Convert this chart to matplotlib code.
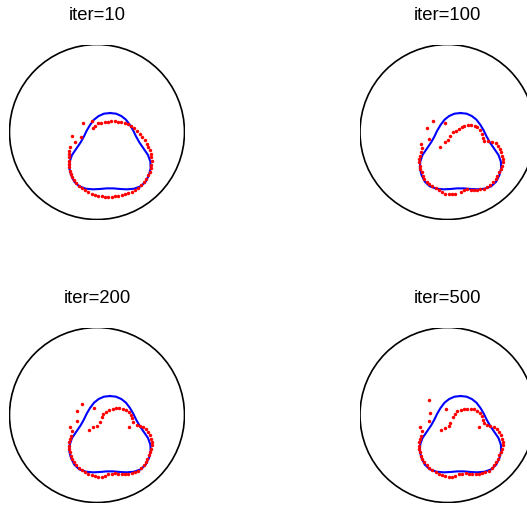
# Curva alvo (azul) e pontos (vermelho) em quatro iterações
import numpy as np
import matplotlib.pyplot as plt

plt.rcParams['font.family'] = ['Liberation Sans', 'DejaVu Sans']

# Títulos dos painéis
titulos = ['iter=10', 'iter=100', 'iter=200', 'iter=500']

# Curva alvo (igual nos quatro painéis)
alvo_x = [0.149, 0.217, 0.278, 0.331, 0.377, 0.415, 0.446, 0.484, 0.533, 0.583,
          0.610, 0.613, 0.594, 0.556, 0.499, 0.423, 0.339, 0.263, 0.187, 0.110,
          0.034, -0.042, -0.126, -0.202, -0.259, -0.297, -0.316, -0.312, -0.286, -0.236,
          -0.187, -0.149, -0.118, -0.080, -0.034, 0.019, 0.080, 0.149]
alvo_y = [0.217, 0.210, 0.183, 0.141, 0.080, 0.015, -0.050, -0.118, -0.190, -0.263,
          -0.339, -0.415, -0.491, -0.568, -0.621, -0.648, -0.655, -0.651, -0.644, -0.644,
          -0.651, -0.655, -0.648, -0.621, -0.568, -0.491, -0.415, -0.339, -0.263, -0.190,
          -0.118, -0.050, 0.015, 0.080, 0.141, 0.183, 0.210, 0.217]

# Pontos após 10 iterações
x10 = [-0.156, -0.061, -0.290, -0.187, -0.251, -0.050, -0.019,
       -0.309, -0.316, -0.320, -0.320, -0.320, -0.320, -0.316, -0.309, -0.297, -0.282,
       -0.263, -0.240, -0.210, -0.175, -0.137, -0.099, -0.061, -0.023, 0.015, 0.053,
       0.091, 0.130, 0.168, 0.206, 0.244, 0.282, 0.320, 0.358, 0.396, 0.434,
       0.472, 0.507, 0.537, 0.564, 0.583, 0.602, 0.613, 0.621, 0.625, 0.621,
       0.613, 0.602, 0.587, 0.568, 0.545, 0.518, 0.491, 0.461, 0.427, 0.392,
       0.354, 0.316, 0.278, 0.240, 0.202, 0.164, 0.126, 0.088, 0.050, 0.015]
y10 = [0.099, 0.122, -0.042, -0.053, -0.110, 0.042, 0.072,
       -0.175, -0.213, -0.251, -0.290, -0.328, -0.366, -0.404, -0.442, -0.480, -0.518,
       -0.552, -0.583, -0.613, -0.640, -0.663, -0.686, -0.705, -0.720, -0.731, -0.735,
       -0.739, -0.739, -0.739, -0.735, -0.728, -0.720, -0.712, -0.701, -0.686, -0.663,
       -0.636, -0.606, -0.571, -0.533, -0.495, -0.457, -0.415, -0.373, -0.331, -0.290,
       -0.248, -0.210, -0.171, -0.133, -0.095, -0.057, -0.019, 0.015, 0.046, 0.072,
       0.091, 0.107, 0.114, 0.118, 0.122, 0.122, 0.118, 0.114, 0.107, 0.099]

# Pontos após 100 iterações
x100 = [-0.168, -0.232, -0.030, -0.213, -0.301, -0.286,
        -0.301, -0.312, -0.320, -0.320, -0.316, -0.309, -0.297, -0.282, -0.263, -0.240,
        -0.210, -0.175, -0.137, -0.099, -0.061, -0.023, 0.015, 0.053, 0.091, 0.149,
        0.187, 0.225, 0.263, 0.301, 0.339, 0.377, 0.415, 0.453, 0.491, 0.522,
        0.549, 0.568, 0.587, 0.606, 0.621, 0.629, 0.632, 0.625, 0.613, 0.598,
        0.579, 0.549, 0.510, 0.461, 0.415, 0.408, 0.389, 0.366, 0.339, 0.309,
        0.270, 0.232, 0.194, 0.164, 0.133, 0.099, 0.065, 0.034, 0.008, -0.034, -0.088]
y100 = [0.122, 0.046, 0.099, -0.080, -0.137, -0.187,
        -0.232, -0.270, -0.309, -0.347, -0.385, -0.423, -0.461, -0.499, -0.537, -0.568,
        -0.594, -0.621, -0.644, -0.667, -0.690, -0.705, -0.712, -0.712, -0.709, -0.686,
        -0.659, -0.651, -0.659, -0.659, -0.659, -0.655, -0.648, -0.629, -0.602, -0.571,
        -0.537, -0.499, -0.461, -0.423, -0.385, -0.347, -0.309, -0.270, -0.232, -0.194,
        -0.156, -0.130, -0.110, -0.103, -0.103, -0.065, -0.019, 0.027, 0.057, 0.072,
        0.080, 0.084, 0.072, 0.053, 0.034, 0.011, -0.004, -0.050, -0.095, -0.118, -0.168]

# Pontos após 200 iterações
x200 = [-0.175, -0.225, -0.030, -0.225, -0.309, -0.286,
        -0.301, -0.312, -0.320, -0.320, -0.320, -0.312, -0.301, -0.286, -0.263, -0.240,
        -0.210, -0.175, -0.137, -0.099, -0.061, -0.023, 0.015, 0.053, 0.091, 0.130,
        0.168, 0.206, 0.244, 0.282, 0.320, 0.358, 0.396, 0.434, 0.472, 0.503,
        0.533, 0.556, 0.575, 0.594, 0.610, 0.621, 0.629, 0.629, 0.621, 0.606,
        0.587, 0.560, 0.530, 0.491, 0.453, 0.366,
        0.415, 0.404, 0.385, 0.362, 0.331, 0.293, 0.255, 0.217, 0.179, 0.141,
        0.103, 0.072, 0.053, 0.034, 0.004, -0.042, -0.091]
y200 = [0.126, 0.042, 0.076, -0.065, -0.133, -0.187,
        -0.236, -0.274, -0.312, -0.350, -0.389, -0.427, -0.465, -0.503, -0.541, -0.575,
        -0.606, -0.632, -0.655, -0.674, -0.690, -0.701, -0.705, -0.705, -0.697, -0.678,
        -0.670, -0.659, -0.670, -0.674, -0.674, -0.674, -0.667, -0.655, -0.636, -0.610,
        -0.575, -0.537, -0.499, -0.461, -0.423, -0.385, -0.347, -0.309, -0.270, -0.232,
        -0.194, -0.160, -0.141, -0.130, -0.118, -0.141,
        -0.076, -0.038, 0.000, 0.030, 0.053, 0.069, 0.076, 0.076, 0.069, 0.057,
        0.038, 0.011, -0.019, -0.084, -0.122, -0.141, -0.168]

# Pontos após 500 iterações
x500 = [-0.206, -0.202, -0.019, -0.213, -0.309, -0.293,
        -0.301, -0.312, -0.320, -0.320, -0.320, -0.312, -0.301, -0.286, -0.263, -0.240,
        -0.210, -0.175, -0.137, -0.099, -0.061, -0.023, 0.015, 0.053, 0.091, 0.130,
        0.168, 0.206, 0.244, 0.282, 0.320, 0.358, 0.396, 0.434, 0.472, 0.503,
        0.533, 0.556, 0.575, 0.594, 0.610, 0.621, 0.629, 0.629, 0.621, 0.606,
        0.587, 0.560, 0.530, 0.491, 0.453, 0.358,
        0.415, 0.404, 0.389, 0.366, 0.339, 0.301, 0.263, 0.225, 0.187, 0.149,
        0.110, 0.080, 0.065, 0.034, 0.015, -0.030, -0.076]
y500 = [0.175, 0.023, 0.065, -0.072, -0.133, -0.187,
        -0.236, -0.274, -0.312, -0.350, -0.389, -0.427, -0.465, -0.503, -0.541, -0.575,
        -0.606, -0.632, -0.655, -0.674, -0.690, -0.701, -0.705, -0.705, -0.697, -0.678,
        -0.674, -0.663, -0.670, -0.674, -0.674, -0.674, -0.667, -0.655, -0.636, -0.610,
        -0.575, -0.537, -0.499, -0.461, -0.423, -0.385, -0.347, -0.309, -0.270, -0.232,
        -0.194, -0.160, -0.141, -0.130, -0.118, -0.141,
        -0.091, -0.053, -0.015, 0.019, 0.050, 0.065, 0.072, 0.072, 0.069, 0.061,
        0.042, 0.011, -0.019, -0.091, -0.130, -0.149, -0.175]

pontos = [(x10, y10), (x100, y100), (x200, y200), (x500, y500)]

# Posição de cada painel na figura (esquerda, baixo, largura, altura)
posicoes = [[0.0180, 0.5642, 0.3321, 0.3458],
            [0.6831, 0.5642, 0.3321, 0.3458],
            [0.0180, 0.0049, 0.3321, 0.3458],
            [0.6831, 0.0049, 0.3321, 0.3458]]

fig = plt.figure(figsize=(5.27, 5.06), dpi=100)

for k in range(4):
    ax = fig.add_axes(posicoes[k])
    ax.add_patch(plt.Circle((0, 0), 1, fill=False, color='k', lw=1.2))
    ax.plot(alvo_x, alvo_y, color='b', lw=1.5)
    ax.plot(pontos[k][0], pontos[k][1], 'o', color='r', ms=2.5, mew=0)
    ax.set_xlim(-1, 1)
    ax.set_ylim(-1, 1)
    ax.axis('off')
    ax.set_title(titulos[k], fontsize=13.3, pad=18.5)

plt.savefig('out.png', dpi=100)
